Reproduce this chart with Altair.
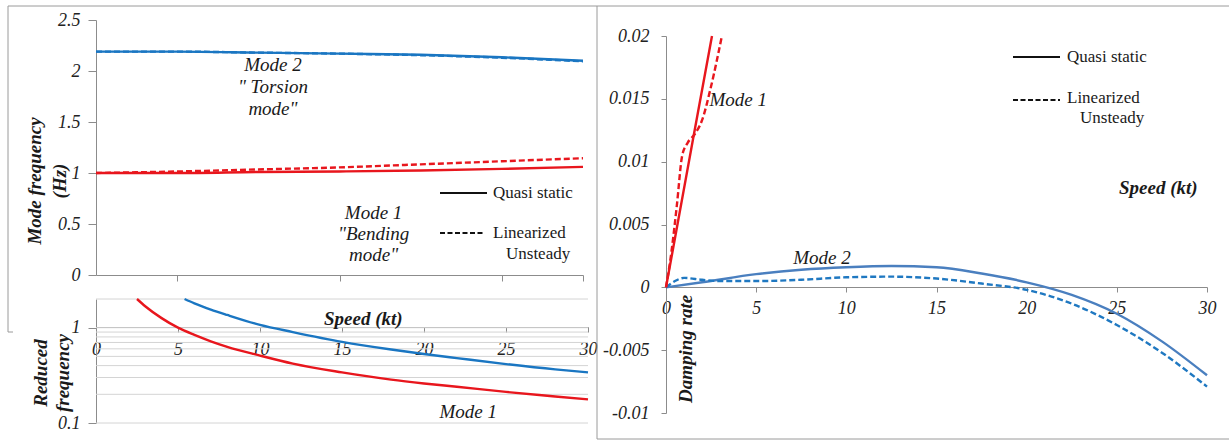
import altair as alt
import pandas as pd

# ---------------- data ----------------
# Panel A: mode frequency (Hz) vs speed (kt)
speed_a = [0, 5, 10, 15, 20, 25, 30]
m2_qs_a = [2.19, 2.19, 2.18, 2.17, 2.16, 2.135, 2.10]
m2_lu_a = [2.19, 2.19, 2.18, 2.17, 2.155, 2.13, 2.095]
m1_qs_a = [1.00, 1.00, 1.01, 1.015, 1.025, 1.04, 1.06]
m1_lu_a = [1.00, 1.015, 1.035, 1.055, 1.085, 1.115, 1.145]

# Panel B: reduced frequency (log) vs speed
speed_b1 = [2.5, 3, 4, 5, 6, 7, 8, 10, 12, 15, 18, 20, 22, 25, 28, 30]
k_mode1 = [2.0, 1.68, 1.26, 1.0, 0.84, 0.72, 0.63, 0.51, 0.42, 0.34, 0.285, 0.26, 0.24, 0.212, 0.19, 0.177]
speed_b2 = [5.4, 6, 7, 8, 10, 12, 15, 18, 20, 22, 25, 28, 30]
k_mode2 = [2.0, 1.8, 1.55, 1.36, 1.07, 0.90, 0.71, 0.59, 0.53, 0.48, 0.415, 0.365, 0.34]
grid_b = [0.1, 0.2, 0.3, 0.4, 0.5, 0.6, 0.7, 0.8, 0.9, 1, 2]

# Panel C: damping rate vs speed
speed_c1_qs = [0, 1.5, 2.55]
d_m1_qs = [0, 0.0118, 0.02]
speed_c1_lu = [0, 0.3, 0.6, 0.9, 1.2, 1.6, 2.0, 2.5, 3.1]
d_m1_lu = [0, 0.0028, 0.0065, 0.0105, 0.0115, 0.0122, 0.0133, 0.016, 0.02]
speed_c2_qs = [0, 2, 5, 7.5, 10, 12.5, 15, 17.5, 20, 22.5, 25, 27.5, 30]
d_m2_qs = [0, 0.0004, 0.00105, 0.0014, 0.0016, 0.0017, 0.0016, 0.0011, 0.0004, -0.0006, -0.0021, -0.0043, -0.007]
speed_c2_lu = [0, 0.5, 1, 2, 3, 5, 7.5, 10, 12.5, 15, 17.5, 20, 22.5, 25, 27.5, 30]
d_m2_lu = [0, 0.0005, 0.00075, 0.0006, 0.0005, 0.0005, 0.0006, 0.0008, 0.00085, 0.0007, 0.0003, -0.0002, -0.0013, -0.0030, -0.0052, -0.0079]

speed_ticks = [0, 5, 10, 15, 20, 25, 30]
freq_ticks = [0, 0.5, 1, 1.5, 2, 2.5]
k_ticks = [0.1, 1]
damp_ticks = [-0.01, -0.005, 0, 0.005, 0.01, 0.015, 0.02]

# ---------------- styling ----------------
W, H = 1229, 441
SERIF = "'Liberation Serif', 'Times New Roman', 'DejaVu Serif', serif"
RED = "#e8161d"
BLUE_L = "#1a76c2"
BLUE_RS = "#4a7fbf"
BLUE_RD = "#1f78c1"
AXC = "#8c8c8c"
FRAME = "#9a9a9a"
LW = 2.4
DASH = [6, 3]

def axis(orient, offset, values, labels=True, tick=6, pad=8, fmt="~g", expr=None):
    kw = dict(orient=orient, offset=offset, values=values, labels=labels, tickSize=tick,
              labelPadding=pad, grid=False, title=None, domainColor=AXC, tickColor=AXC,
              labelFont=SERIF, labelFontSize=18, labelFontStyle="italic", labelColor="#222",
              labelFlush=False, labelOverlap=False, format=fmt)
    if expr:
        kw["labelExpr"] = expr
    return alt.Axis(**kw)

# Panel A scales
XA = alt.X("x:Q", scale=alt.Scale(domain=[0, 30], range=[96, 583], nice=False, zero=False),
           axis=axis("bottom", -(H - 275), [5, 15, 25, 30], labels=False, tick=6))
YA = alt.Y("y:Q", scale=alt.Scale(domain=[0, 2.5], range=[275, 20], nice=False, zero=False),
           axis=axis("left", -96, freq_ticks, tick=8, pad=8))
# Panel B scales
XB = alt.X("x:Q", scale=alt.Scale(domain=[0, 30], range=[96, 588], nice=False, zero=False),
           axis=axis("bottom", -(H - 327), speed_ticks, tick=5, pad=8))
YB = alt.Y("y:Q", scale=alt.Scale(type="log", domain=[0.1, 2], range=[423, 299], nice=False),
           axis=axis("left", -96, k_ticks, tick=8, pad=8))
# Panel C scales
XC = alt.X("x:Q", scale=alt.Scale(domain=[0, 30], range=[666, 1207], nice=False, zero=False),
           axis=axis("bottom", -(H - 287), speed_ticks, tick=5, pad=7))
YC = alt.Y("y:Q", scale=alt.Scale(domain=[-0.01, 0.02], range=[413, 36], nice=False, zero=False),
           axis=axis("left", -666, damp_ticks, tick=5, pad=12,
                     expr="datum.value < 0 ? '-' + format(-datum.value, '~g') : format(datum.value, '~g')"))


def line(xs, ys, X, Y, color, dash=None, interp="monotone", width=LW):
    kw = dict(color=color, strokeWidth=width, interpolate=interp)
    if dash:
        kw["strokeDash"] = dash
    return alt.Chart(pd.DataFrame({"x": xs, "y": ys})).mark_line(**kw).encode(x=X, y=Y)


def note(x, y, text, X, Y, size=19, style="italic", weight="normal", lh=21, angle=0):
    kw = dict(font=SERIF, fontSize=size, fontStyle=style, fontWeight=weight, color="#1a1a1a",
              lineBreak="\n", lineHeight=lh, align="center", baseline="middle")
    if angle:
        kw["angle"] = angle
    return alt.Chart(pd.DataFrame({"x": [x], "y": [y], "t": [text]})).mark_text(**kw).encode(
        x=X, y=Y, text="t:N")


one = pd.DataFrame({"a": [0]})

def hrule(x1, x2, y, color=FRAME, width=1, dash=None):
    kw = dict(color=color, strokeWidth=width)
    if dash:
        kw["strokeDash"] = dash
    return alt.Chart(one).mark_rule(**kw).encode(x=alt.value(x1), x2=alt.value(x2), y=alt.value(y))

def vrule(x, y1, y2, color=FRAME, width=1):
    return alt.Chart(one).mark_rule(color=color, strokeWidth=width).encode(
        x=alt.value(x), y=alt.value(y1), y2=alt.value(y2))

def ptext(x, y, text, size=17, style="normal", weight="normal", align="left", angle=0, lh=24):
    kw = dict(font=SERIF, fontSize=size, fontStyle=style, fontWeight=weight, color="#1a1a1a",
              align=align, baseline="middle", lineBreak="\n", lineHeight=lh)
    if angle:
        kw["angle"] = angle
    return alt.Chart(one).mark_text(**kw).encode(x=alt.value(x), y=alt.value(y), text=alt.value(text))


# ---------------- Panel A ----------------
panel_a = alt.layer(
    line(speed_a, m2_qs_a, XA, YA, BLUE_L),
    line(speed_a, m2_lu_a, XA, YA, BLUE_L, DASH),
    line(speed_a, m1_qs_a, XA, YA, RED),
    line(speed_a, m1_lu_a, XA, YA, RED, DASH),
    note(10.9, 2.06, 'Mode 2\n" Torsion\nmode"', XA, YA, lh=22),
    note(17.1, 0.61, 'Mode 1\n"Bending\nmode"', XA, YA, lh=21),
)

# ---------------- Panel B ----------------
grid_df = pd.DataFrame({"x": [0] * len(grid_b), "x2": [30] * len(grid_b), "y": grid_b})
grid_layer = alt.Chart(grid_df).mark_rule(color="#d4d4d4", strokeWidth=1).encode(
    x=XB, x2="x2:Q", y=YB)
panel_b = alt.layer(
    grid_layer,
    line(speed_b1, k_mode1, XB, YB, RED),
    line(speed_b2, k_mode2, XB, YB, BLUE_L),
    note(22.7, 0.13, "Mode 1", XB, YB),
    note(16.3, 1.24, "Speed (kt)", XB, YB, weight="bold"),
)

# ---------------- Panel C ----------------
panel_c = alt.layer(
    line(speed_c2_qs, d_m2_qs, XC, YC, BLUE_RS),
    line(speed_c2_lu, d_m2_lu, XC, YC, BLUE_RD, DASH),
    line(speed_c1_qs, d_m1_qs, XC, YC, RED, interp="linear"),
    line(speed_c1_lu, d_m1_lu, XC, YC, RED, DASH),
    note(4.0, 0.0149, "Mode 1", XC, YC),
    note(8.65, 0.0023, "Mode 2", XC, YC),
    note(27.3, 0.0079, "Speed (kt)", XC, YC, weight="bold"),
    note(1.1, -0.0049, "Damping rate", XC, YC, weight="bold", angle=270),
)

# ---------------- decorations: frames, legends, axis titles ----------------
decor = alt.layer(
    hrule(8, W, 6),
    vrule(8, 6, 332),
    hrule(8, 13, 332),
    vrule(597, 6, 439),
    hrule(597, W, 439),
    # left legend
    hrule(440, 487, 193, color="#111", width=2),
    ptext(493, 193, "Quasi static"),
    hrule(440, 484, 233, color="#111", width=2, dash=[5, 2.5]),
    ptext(493, 233, "Linearized"),
    ptext(506, 254, "Unsteady"),
    # right legend
    hrule(1013, 1060, 57, color="#111", width=2),
    ptext(1067, 57, "Quasi static"),
    hrule(1013, 1060, 100, color="#111", width=2, dash=[5, 2.5]),
    ptext(1067, 98, "Linearized"),
    ptext(1080, 118, "Unsteady"),
    # left axis titles
    ptext(35, 181, "Mode frequency\n(Hz)", size=19, style="italic", weight="bold",
          align="center", angle=270, lh=25),
    ptext(41, 373, "Reduced\nfrequency", size=19, style="italic", weight="bold",
          align="center", angle=270, lh=22),
)

chart = alt.layer(panel_a, panel_b, panel_c, decor).resolve_scale(
    x="independent", y="independent"
).properties(
    width=W, height=H, padding=0, autosize=alt.AutoSizeParams(type="none"),
    background="white",
).configure_view(stroke=None)

chart.save("out.html", embed_options={"renderer": "svg", "actions": False})
